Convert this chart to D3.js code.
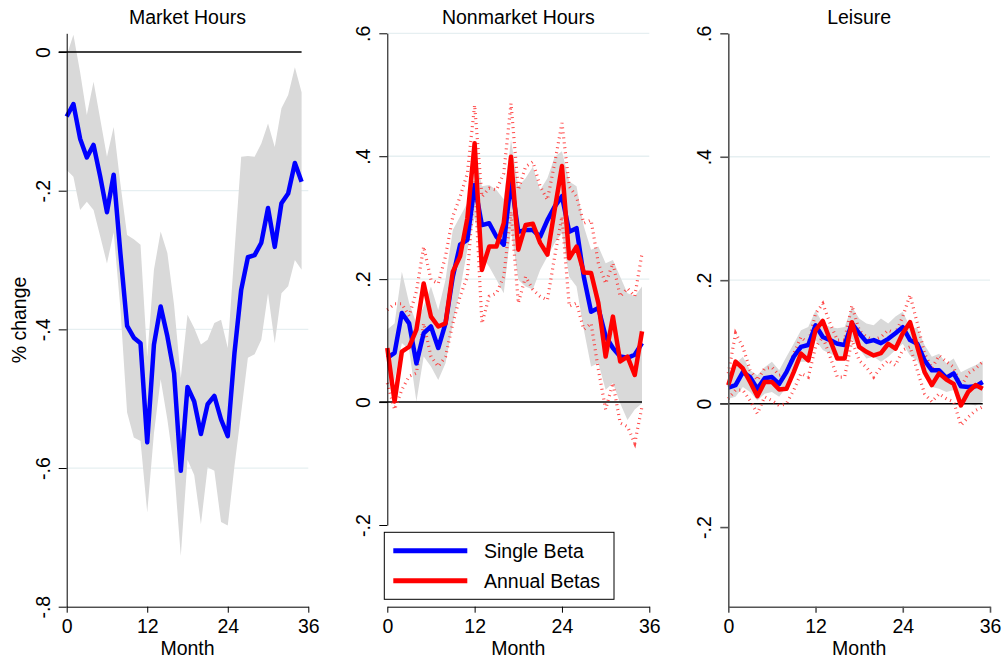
<!doctype html>
<html>
<head>
<meta charset="utf-8">
<script src="https://d3js.org/d3.v7.min.js"></script>
<style>
  body { margin: 0; background: #fff; }
  svg text { font-family: "Liberation Sans", Arial, sans-serif; fill: #000; }
</style>
</head>
<body>
<svg width="1004" height="662" id="chart"></svg>
<script>
// months 0..35
var months = d3.range(36);
var xTicks = [0, 12, 24, 36];

// Market Hours (single beta only)
var mktEst = [-0.093,-0.075,-0.125,-0.152,-0.134,-0.18,-0.231,-0.177,-0.29,-0.395,-0.412,-0.42,-0.563,-0.422,-0.367,-0.41,-0.463,-0.604,-0.483,-0.504,-0.551,-0.508,-0.496,-0.53,-0.554,-0.434,-0.343,-0.296,-0.293,-0.275,-0.225,-0.281,-0.218,-0.204,-0.16,-0.187];
var mktHi  = [-0.005,0.025,-0.029,-0.091,-0.043,-0.097,-0.151,-0.108,-0.19,-0.264,-0.27,-0.278,-0.44,-0.314,-0.259,-0.29,-0.365,-0.47,-0.379,-0.398,-0.422,-0.415,-0.391,-0.386,-0.427,-0.288,-0.151,-0.15,-0.151,-0.132,-0.103,-0.137,-0.081,-0.062,-0.022,-0.058];
var mktLo  = [-0.17,-0.18,-0.228,-0.216,-0.228,-0.266,-0.305,-0.26,-0.37,-0.52,-0.556,-0.561,-0.664,-0.55,-0.472,-0.53,-0.6,-0.727,-0.588,-0.61,-0.681,-0.599,-0.604,-0.678,-0.683,-0.597,-0.52,-0.441,-0.436,-0.415,-0.348,-0.42,-0.348,-0.338,-0.3,-0.314];

// Nonmarket Hours
var nmSingle   = [0.072,0.08,0.145,0.128,0.063,0.112,0.123,0.088,0.128,0.204,0.256,0.264,0.353,0.288,0.291,0.269,0.256,0.361,0.277,0.28,0.28,0.269,0.296,0.318,0.335,0.277,0.283,0.204,0.147,0.153,0.107,0.088,0.074,0.072,0.077,0.096];
var nmSingleHi = [0.118,0.128,0.212,0.161,0.128,0.156,0.188,0.15,0.199,0.28,0.302,0.324,0.41,0.351,0.353,0.345,0.33,0.427,0.351,0.364,0.383,0.345,0.364,0.399,0.408,0.359,0.351,0.286,0.248,0.253,0.226,0.231,0.204,0.177,0.172,0.188];
var nmSingleLo = [0.02,0.036,0.096,0.085,0.001,0.074,0.058,0.036,0.063,0.128,0.183,0.248,0.3,0.237,0.22,0.199,0.177,0.28,0.199,0.188,0.183,0.215,0.237,0.259,0.275,0.204,0.188,0.118,0.058,0.063,0.02,0.031,-0.002,-0.029,-0.012,-0.002];
var nmAnnual   = [0.088,0.001,0.082,0.09,0.118,0.193,0.139,0.123,0.128,0.212,0.237,0.299,0.421,0.215,0.253,0.253,0.291,0.399,0.248,0.288,0.29,0.259,0.24,0.313,0.384,0.234,0.253,0.211,0.21,0.161,0.074,0.139,0.066,0.074,0.044,0.115];
var nmAnnualHi = [0.15,0.16,0.16,0.14,0.18,0.253,0.199,0.193,0.237,0.302,0.334,0.372,0.483,0.334,0.348,0.345,0.372,0.486,0.345,0.383,0.391,0.351,0.329,0.389,0.454,0.351,0.334,0.291,0.296,0.226,0.193,0.226,0.172,0.185,0.172,0.242];
var nmAnnualLo = [0.031,-0.012,0.02,0.042,0.047,0.128,0.074,0.058,0.074,0.128,0.172,0.204,0.36,0.128,0.172,0.177,0.204,0.31,0.161,0.204,0.183,0.172,0.166,0.237,0.302,0.156,0.161,0.118,0.128,0.053,-0.012,0.031,-0.034,-0.04,-0.067,-0.007];

// Leisure
var leSingle   = [0.026,0.03,0.051,0.043,0.024,0.041,0.043,0.032,0.051,0.076,0.092,0.095,0.127,0.108,0.103,0.097,0.095,0.13,0.114,0.1,0.103,0.098,0.105,0.114,0.124,0.103,0.097,0.07,0.054,0.054,0.042,0.049,0.028,0.027,0.028,0.035];
var leSingleHi = [0.043,0.065,0.076,0.054,0.046,0.059,0.068,0.054,0.076,0.097,0.119,0.124,0.151,0.13,0.124,0.122,0.124,0.157,0.138,0.13,0.127,0.138,0.13,0.141,0.149,0.124,0.122,0.095,0.076,0.081,0.065,0.073,0.051,0.057,0.062,0.069];
var leSingleLo = [0.008,0.011,0.027,0.019,0.005,0.016,0.019,0.011,0.027,0.054,0.068,0.068,0.103,0.087,0.081,0.076,0.07,0.105,0.089,0.073,0.076,0.068,0.076,0.087,0.097,0.078,0.07,0.043,0.027,0.024,0.019,0.022,0.003,0,-0.003,0.003];
var leAnnual   = [0.03,0.068,0.057,0.035,0.012,0.035,0.035,0.023,0.024,0.051,0.081,0.07,0.119,0.134,0.103,0.073,0.073,0.132,0.092,0.084,0.078,0.082,0.097,0.089,0.114,0.132,0.092,0.051,0.03,0.049,0.039,0.032,-0.003,0.019,0.03,0.024];
var leAnnualHi = [0.049,0.114,0.092,0.054,0.038,0.057,0.059,0.046,0.049,0.081,0.108,0.097,0.146,0.162,0.13,0.103,0.103,0.159,0.119,0.108,0.103,0.108,0.119,0.114,0.141,0.176,0.13,0.081,0.057,0.078,0.068,0.059,0.027,0.049,0.057,0.068];
var leAnnualLo = [0.008,0.022,0.022,0.005,-0.016,0.011,0.005,-0.003,0,0.022,0.049,0.043,0.092,0.108,0.076,0.043,0.043,0.103,0.07,0.059,0.043,0.059,0.07,0.062,0.087,0.092,0.054,0.016,0.003,0.016,0.008,0.003,-0.035,-0.022,-0.011,-0.005];

var mktTicks = [0, -0.2, -0.4, -0.6, -0.8];
var otherTicks = [0.6, 0.4, 0.2, 0, -0.2];
var legendLabels = ["Single Beta", "Annual Betas"];

var svg = d3.select("#chart");
var FONT = "19.5px";
var fmt = function (v) {
  if (v === 0) return "0";
  return (v < 0 ? "-" : "") + String(Math.abs(v)).replace(/^0/, "");
};

var panels = [
  { title: "Market Hours", x0: 66.7, x1: 308.3, yDom: [-0.8, 0.027], yRange: [606.7, 33.3],
    ticks: mktTicks, grid: [-0.2, -0.4, -0.6], axisColor: "#000", axisW: 1,
    est: mktEst, hi: mktHi, lo: mktLo, ylabel: "% change" },
  { title: "Nonmarket Hours", x0: 387.3, x1: 649.3, yDom: [-0.2, 0.6], yRange: [525, 33.3],
    ticks: otherTicks, grid: [0.6, 0.4, 0.2], axisColor: "#000", axisW: 1,
    est: nmSingle, hi: nmSingleHi, lo: nmSingleLo,
    ann: nmAnnual, annHi: nmAnnualHi, annLo: nmAnnualLo, legend: true },
  { title: "Leisure", x0: 728.3, x1: 990, yDom: [-0.329, 0.6], yRange: [606.7, 33.3],
    ticks: otherTicks, grid: [0.4, 0.2], axisColor: "#555", axisW: 1.6,
    est: leSingle, hi: leSingleHi, lo: leSingleLo,
    ann: leAnnual, annHi: leAnnualHi, annLo: leAnnualLo }
];

var xAxisY = 606.7;

panels.forEach(function (p) {
  var x = d3.scaleLinear().domain([0, 36]).range([p.x0, p.x1]);
  var y = d3.scaleLinear().domain(p.yDom).range(p.yRange);
  var g = svg.append("g");

  // gridlines
  g.selectAll(".grid").data(p.grid).enter().append("line")
    .attr("x1", x(0)).attr("x2", x(36))
    .attr("y1", function (d) { return y(d); }).attr("y2", function (d) { return y(d); })
    .attr("stroke", "#e6eff1").attr("stroke-width", 1.3);

  // CI band (single beta)
  var area = d3.area()
    .x(function (i) { return x(i); })
    .y0(function (i) { return y(p.lo[i]); })
    .y1(function (i) { return y(p.hi[i]); });
  g.append("path").datum(months).attr("d", area).attr("fill", "#d9d9d9");

  // zero line
  g.append("line")
    .attr("x1", x(0) - 8).attr("x2", x(35))
    .attr("y1", y(0)).attr("y2", y(0))
    .attr("stroke", "#000").attr("stroke-width", 1.5);

  function lineOf(arr) {
    return d3.line().x(function (i) { return x(i); }).y(function (i) { return y(arr[i]); });
  }

  // annual-beta CI: short dashes, like Stata's dotted pattern
  if (p.ann) {
    [p.annHi, p.annLo].forEach(function (arr) {
      g.append("path").datum(months).attr("d", lineOf(arr))
        .attr("fill", "none").attr("stroke", "#ff2a2a").attr("stroke-width", 3.2)
        .attr("stroke-opacity", 0.85)
        .attr("stroke-dasharray", "1,4");
    });
  }

  g.append("path").datum(months).attr("d", lineOf(p.est))
    .attr("fill", "none").attr("stroke", "#0000ff").attr("stroke-width", 4.5)
    .attr("stroke-linejoin", "round");

  if (p.ann) {
    g.append("path").datum(months).attr("d", lineOf(p.ann))
      .attr("fill", "none").attr("stroke", "#ff0000").attr("stroke-width", 4.5)
      .attr("stroke-linejoin", "round");
  }

  // y axis
  var ya = g.append("g")
    .attr("transform", "translate(" + x(0) + ",0)")
    .call(d3.axisLeft(y).tickValues(p.ticks).tickFormat(fmt).tickSize(8).tickSizeOuter(0));
  ya.select(".domain").attr("stroke", p.axisColor).attr("stroke-width", p.axisW);
  ya.selectAll(".tick line").attr("stroke", p.axisColor).attr("stroke-width", p.axisW);
  ya.selectAll(".tick text")
    .attr("x", 0).attr("dy", 0)
    .attr("text-anchor", "middle")
    .attr("transform", "translate(-17,0) rotate(-90)")
    .style("font-size", FONT)
    .style("font-family", "Liberation Sans, Arial, sans-serif");

  // x axis
  var xa = g.append("g")
    .attr("transform", "translate(0," + xAxisY + ")")
    .call(d3.axisBottom(x).tickValues(xTicks).tickSize(6).tickSizeOuter(0).tickPadding(6));
  xa.select(".domain").attr("stroke", p.axisColor).attr("stroke-width", p.axisW);
  xa.selectAll(".tick line").attr("stroke", p.axisColor).attr("stroke-width", p.axisW);
  xa.selectAll(".tick text")
    .style("font-size", FONT)
    .style("font-family", "Liberation Sans, Arial, sans-serif");

  svg.append("text")
    .attr("x", (p.x0 + p.x1) / 2).attr("y", 655)
    .attr("text-anchor", "middle").style("font-size", FONT)
    .text("Month");

  svg.append("text")
    .attr("x", (p.x0 + p.x1) / 2).attr("y", 24)
    .attr("text-anchor", "middle").style("font-size", FONT)
    .text(p.title);

  if (p.ylabel) {
    svg.append("text")
      .attr("transform", "translate(26,320) rotate(-90)")
      .attr("text-anchor", "middle").style("font-size", FONT)
      .text(p.ylabel);
  }

  if (p.legend) {
    var lg = svg.append("g");
    lg.append("rect")
      .attr("x", 384.3).attr("y", 532.3).attr("width", 229.7).attr("height", 67)
      .attr("fill", "#fff").attr("stroke", "#000").attr("stroke-width", 1);
    var cols = ["#0000ff", "#ff0000"];
    legendLabels.forEach(function (lab, i) {
      var ly = 550.7 + i * 30;
      lg.append("line")
        .attr("x1", 393.3).attr("x2", 467.3).attr("y1", ly).attr("y2", ly)
        .attr("stroke", cols[i]).attr("stroke-width", 5);
      lg.append("text")
        .attr("x", 484).attr("y", ly + 7)
        .style("font-size", FONT)
        .text(lab);
    });
  }
});
</script>
</body>
</html>
